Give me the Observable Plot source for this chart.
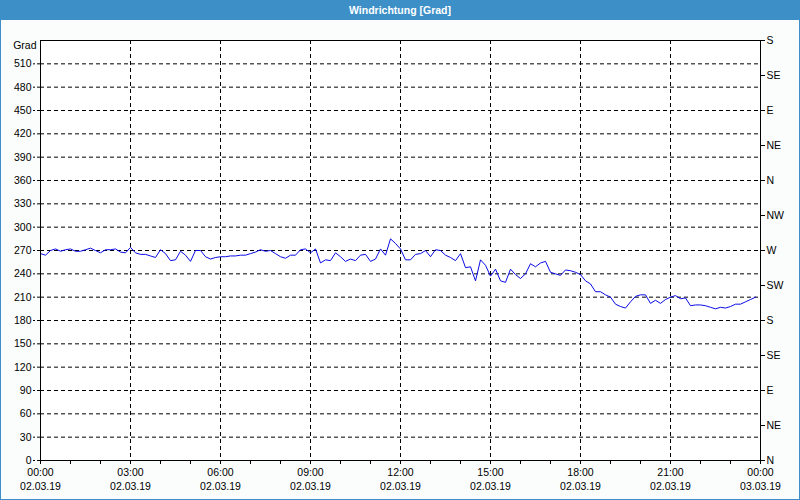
<!DOCTYPE html>
<html>
<head>
<meta charset="utf-8">
<script src="https://cdn.jsdelivr.net/npm/d3@7"></script>
<script src="https://cdn.jsdelivr.net/npm/@observablehq/plot@0.6"></script>
<style>
  html, body { margin: 0; padding: 0; background: #fbfdfc; }
  #wrap { position: relative; width: 800px; height: 500px; overflow: hidden; background: #fbfdfc;
          font-family: "Liberation Sans", "DejaVu Sans", sans-serif; }
  #title { position: absolute; left: 0; top: 0; width: 800px; height: 20px; background: #3c8fc7;
           color: #ffffff; font-weight: bold; font-size: 10.5px; line-height: 20px; text-align: center; }
  #chart { position: absolute; left: 0; top: 20px; }
  #border { position: absolute; left: 0; top: 0; width: 800px; height: 500px; box-sizing: border-box;
            border: 1px solid #3c8fc7; pointer-events: none; }
</style>
</head>
<body>
<div id="wrap">
  <div id="title">Windrichtung [Grad]</div>
  <div id="chart"></div>
  <div id="border"></div>
</div>
<script>
// Time of each reading, minutes after 00:00 on 02.03.19
const minutes = [
  0,10,20,30,40,50,60,70,80,90,100,110,120,130,140,150,160,170,180,190,
  200,210,220,230,240,250,260,270,280,290,300,310,320,330,340,350,360,370,380,390,
  400,410,420,430,440,450,460,470,480,490,500,510,520,530,540,550,560,570,580,590,
  600,610,620,630,640,650,660,670,680,690,700,710,720,730,740,750,760,770,780,790,
  800,810,820,830,840,850,860,870,880,890,900,910,920,930,940,950,960,970,980,990,
  1000,1010,1020,1030,1040,1050,1060,1070,1080,1090,1100,1110,1120,1130,1140,1150,1160,1170,1180,1190,
  1200,1210,1220,1230,1240,1250,1260,1270,1280,1290,1300,1310,1320,1330,1340,1350,1360,1370,1380,1390,
  1400,1410,1420,1430
];
// Wind direction in degrees
const direction = [
  266,264,270,272,269,271,272,269,269,271,273,270,267,271,271,272,268,267,274,267,
  265,265,263,261,271,266,257,258,269,264,256,270,270,262,259,261,262,262,263,263,
  264,264,266,268,271,269,270,266,262,260,264,264,271,272,267,272,254,258,257,267,
  262,256,259,257,264,265,256,259,272,264,285,279,272,258,258,265,266,270,262,271,
  270,264,261,257,266,248,249,231,258,251,237,246,231,229,246,239,234,240,253,249,
  254,256,242,240,238,245,244,242,239,231,227,217,217,213,210,201,198,196,204,211,
  213,213,202,206,202,207,210,212,208,209,199,200,200,199,197,195,197,196,198,201,
  201,204,207,210
];

const xTicks = [0,180,360,540,720,900,1080,1260,1440];
const xTimeLabels = ["00:00","03:00","06:00","09:00","12:00","15:00","18:00","21:00","00:00"];
const xDateLabels = ["02.03.19","02.03.19","02.03.19","02.03.19","02.03.19","02.03.19","02.03.19","02.03.19","03.03.19"];
const xMinorTicks = [0,60,120,180,240,300,360,420,480,540,600,660,720,780,840,900,960,1020,1080,1140,1200,1260,1320,1380,1440];

const yTicks = [0,30,60,90,120,150,180,210,240,270,300,330,360,390,420,450,480,510];
const yGrid = [30,60,90,120,150,180,210,240,270,300,330,360,390,420,450,480,510];
const compassTicks = [0,45,90,135,180,225,270,315,360,405,450,495,540];
const compassLabels = ["N","NE","E","SE","S","SW","W","NW","N","NE","E","SE","S"];

const data = minutes.map((m, i) => ({t: m, v: direction[i]}));

const chart = Plot.plot({
  width: 800,
  height: 480,
  marginTop: 20,
  marginBottom: 40,
  marginLeft: 40,
  marginRight: 40,
  style: {fontFamily: "'Liberation Sans', 'DejaVu Sans', sans-serif", fontSize: "10.5px", background: "transparent", color: "#000"},
  x: {domain: [0, 1440], label: null},
  y: {domain: [0, 540], label: null},
  marks: [
    Plot.frame({fill: "#ffffff", stroke: "none"}),
    Plot.gridY(yGrid, {stroke: "#000", strokeOpacity: 1, strokeDasharray: "4,3"}),
    Plot.gridX(xTicks.slice(1, -1), {stroke: "#000", strokeOpacity: 1, strokeDasharray: "4,3"}),
    Plot.axisY(yTicks, {anchor: "left", tickSize: 7, tickPadding: 2, label: null, strokeDasharray: "3,2"}),
    Plot.axisY(compassTicks, {anchor: "right", tickSize: 4, tickPadding: 2, label: null,
      tickFormat: d => compassLabels[compassTicks.indexOf(d)]}),
    Plot.axisX(xMinorTicks, {anchor: "bottom", tickSize: 4, tickFormat: () => "", label: null}),
    Plot.axisX(xTicks, {anchor: "bottom", tickSize: 0, tickPadding: 8, label: null,
      tickFormat: d => xTimeLabels[xTicks.indexOf(d)]}),
    Plot.axisX(xTicks, {anchor: "bottom", tickSize: 0, tickPadding: 22, label: null,
      tickFormat: d => xDateLabels[xTicks.indexOf(d)]}),
    Plot.text(["Grad"], {x: 0, y: 540, text: d => d, textAnchor: "end", dx: -4, dy: 5, fill: "#000"}),
    Plot.line(data, {x: "t", y: "v", stroke: "#0a0ae6", strokeWidth: 1}),
    Plot.frame({stroke: "#000", strokeWidth: 1})
  ]
});
document.getElementById("chart").appendChild(chart);
</script>
</body>
</html>
